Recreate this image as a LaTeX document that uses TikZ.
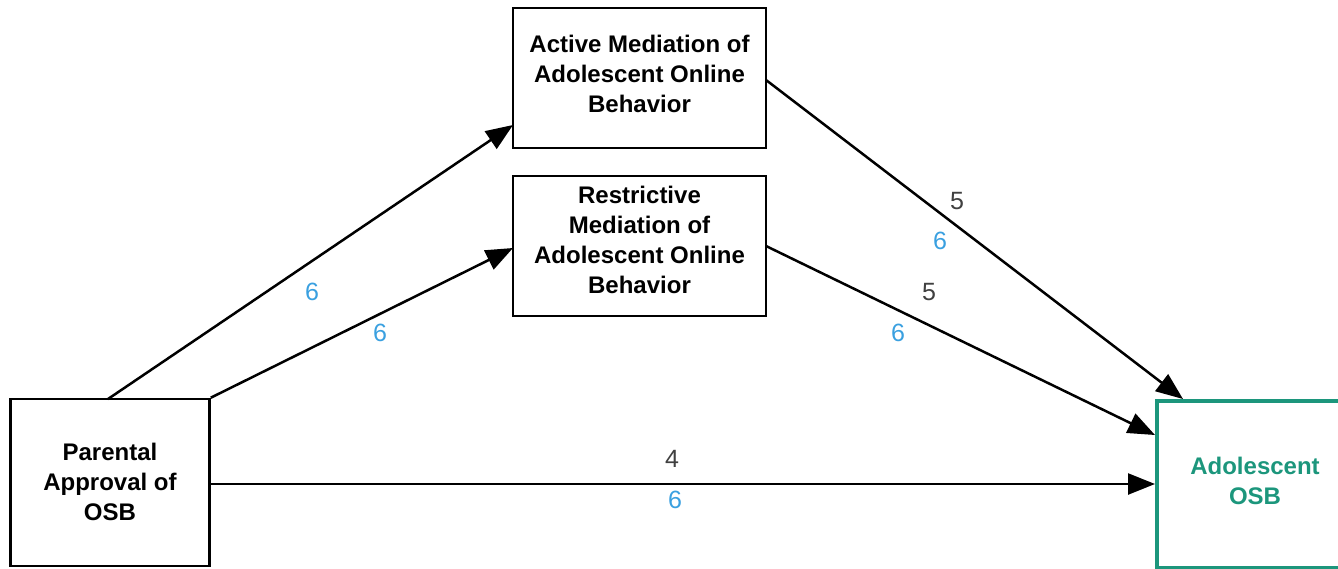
\documentclass[tikz,border=0pt]{standalone}
\usepackage{fontspec}
\setmainfont{Liberation Sans}
\usetikzlibrary{arrows.meta}
\definecolor{osbgreen}{RGB}{28,150,124}
\definecolor{coefblue}{RGB}{58,160,224}
\definecolor{coefgray}{RGB}{64,64,64}
\tikzset{
  varbox/.style={draw=black, line width=2.6pt, inner sep=0pt},
  vartext/.style={align=center, inner sep=0pt, font=\fontsize{24}{30}\selectfont\bfseries},
  pathline/.style={line width=2.5pt, -{Triangle[length=27pt,width=21pt]}},
  coefA/.style={text=coefgray, font=\fontsize{25}{28}\selectfont},
  coefB/.style={text=coefblue, font=\fontsize{25}{28}\selectfont},
}
\begin{document}
\begin{tikzpicture}[x=1pt,y=-1pt]
\useasboundingbox (0,0) rectangle (1338,568);
% variable boxes
\node[varbox, minimum width=199pt, minimum height=167pt] (par) at (110,482.5) {};
\node[varbox, minimum width=253pt, minimum height=140pt] (act) at (639.5,78) {};
\node[varbox, minimum width=253pt, minimum height=140pt] (res) at (639.5,246) {};
\node[varbox, draw=osbgreen, line width=3.6pt, minimum width=200pt, minimum height=167pt, anchor=north west] (osb) at (1155,399) {};
% box labels
\node[vartext] (partxt) at (110,482) {Parental\\Approval of\\OSB};
\node[vartext] (acttxt) at (639.5,73.5) {Active Mediation of\\Adolescent Online\\Behavior};
\node[vartext] (restxt) at (639.5,240) {Restrictive\\Mediation of\\Adolescent Online\\Behavior};
\node[vartext, text=osbgreen] (osbtxt) at (1255,481) {Adolescent\\OSB};
% anchor points on the box outlines
\coordinate (parTop) at (108,399);
\coordinate (parCorner) at (par.north east);
\coordinate (parRight) at (209,484);
\coordinate (actIn) at (513,125);
\coordinate (resIn) at (513,248);
\coordinate (actOut) at (766,80);
\coordinate (resOut) at (766,246);
\coordinate (osbTop) at (1183,399);
\coordinate (osbMid) at (1155,435);
\coordinate (osbIn) at (1155,484);
% paths
\draw[pathline] (parTop) -- (actIn);
\draw[pathline] (parCorner) -- (resIn);
\draw[pathline] (parRight) -- (osbIn);
\draw[pathline] (actOut) -- (osbTop);
\draw[pathline] (resOut) -- (osbMid);
% coefficients
\node[coefB] (c1) at (312,292) {6};
\node[coefB] (c2) at (380,333) {6};
\node[coefA] (c3) at (957,201) {5};
\node[coefB] (c4) at (940,241) {6};
\node[coefA] (c5) at (929,292) {5};
\node[coefB] (c6) at (898,333) {6};
\node[coefA] (c7) at (672,459) {4};
\node[coefB] (c8) at (675,500) {6};
\end{tikzpicture}
\end{document}
